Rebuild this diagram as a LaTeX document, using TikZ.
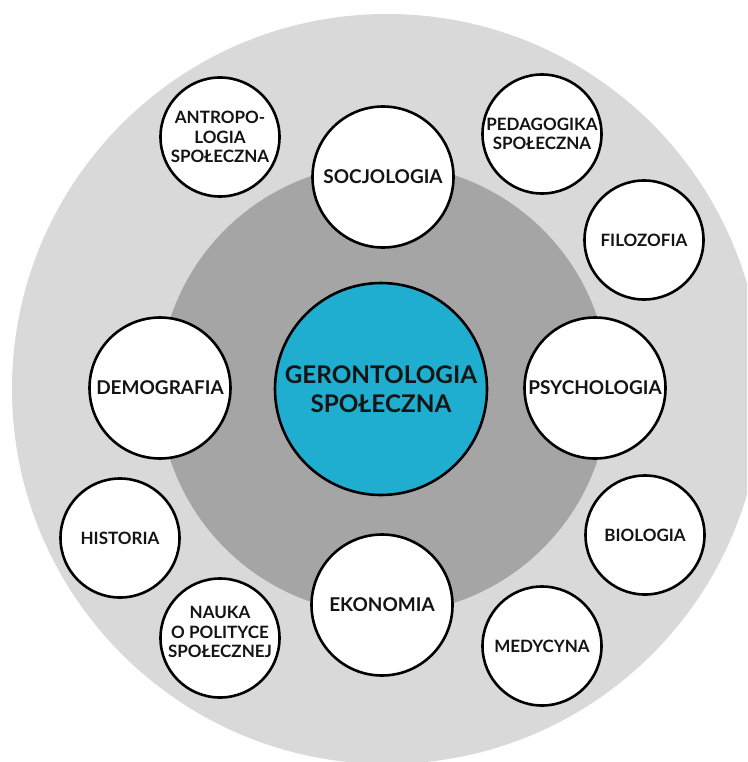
\documentclass[tikz,border=0pt]{standalone}
\usepackage{fontspec}
\setmainfont{Lato}
\definecolor{outerring}{RGB}{217,217,217}
\definecolor{innerring}{RGB}{165,165,165}
\definecolor{corefill}{RGB}{31,174,207}
\definecolor{inkdark}{RGB}{20,20,20}
\begin{document}
\begin{tikzpicture}[x=1pt,y=-1pt,
  ring/.style={circle, draw=black, line width=2.6pt, fill=white, inner sep=0pt,
    align=center, text=inkdark},
  bigbox/.style={ring, minimum size=141pt,
    font=\fontsize{19}{23}\selectfont\bfseries},
  smallfont/.style={font=\fontsize{17}{19.5}\selectfont\bfseries},
  smallbox/.style={ring, minimum size=119pt, smallfont},
  corebox/.style={ring, fill=corefill, minimum size=212pt,
    font=\fontsize{24.3}{29}\selectfont\bfseries},
]
\useasboundingbox (0,0) rectangle (747,762);
\clip (0,0) rectangle (747,762);
\fill[white] (0,0) rectangle (747,762);

% background discs
\fill[outerring] (387,389) circle[radius=375];
\fill[innerring] (384,389) circle[radius=225];

% central discipline
\node[corebox] (core) at (381,389) {GERONTOLOGIA\\SPOŁECZNA};

% inner ring of disciplines
\node[bigbox] (soc) at (383,177) {SOCJOLOGIA};
\node[bigbox] (dem) at (160,388) {DEMOGRAFIA};
\node[bigbox] (psy) at (595,388) {PSYCHOLOGIA};
\node[bigbox] (eko) at (382,605) {EKONOMIA};

% outer ring of disciplines
\node[smallbox] (antro) at (220,137) {ANTROPO-\\LOGIA\\SPOŁECZNA};
\node[smallbox] (ped) at (542,134) {PEDAGOGIKA\\SPOŁECZNA};
\node[smallbox] (filo) at (644,240) {FILOZOFIA};
\node[smallbox] (bio) at (645,535) {BIOLOGIA};
\node[smallbox] (med) at (542,646) {MEDYCYNA};
\node[smallbox, label={[smallfont, align=center, text=inkdark, yshift=6pt]center:NAUKA\\O POLITYCE\\SPOŁECZNEJ}] (nauka) at (220,638) {};
\node[smallbox] (hist) at (120,538) {HISTORIA};
\end{tikzpicture}
\end{document}
